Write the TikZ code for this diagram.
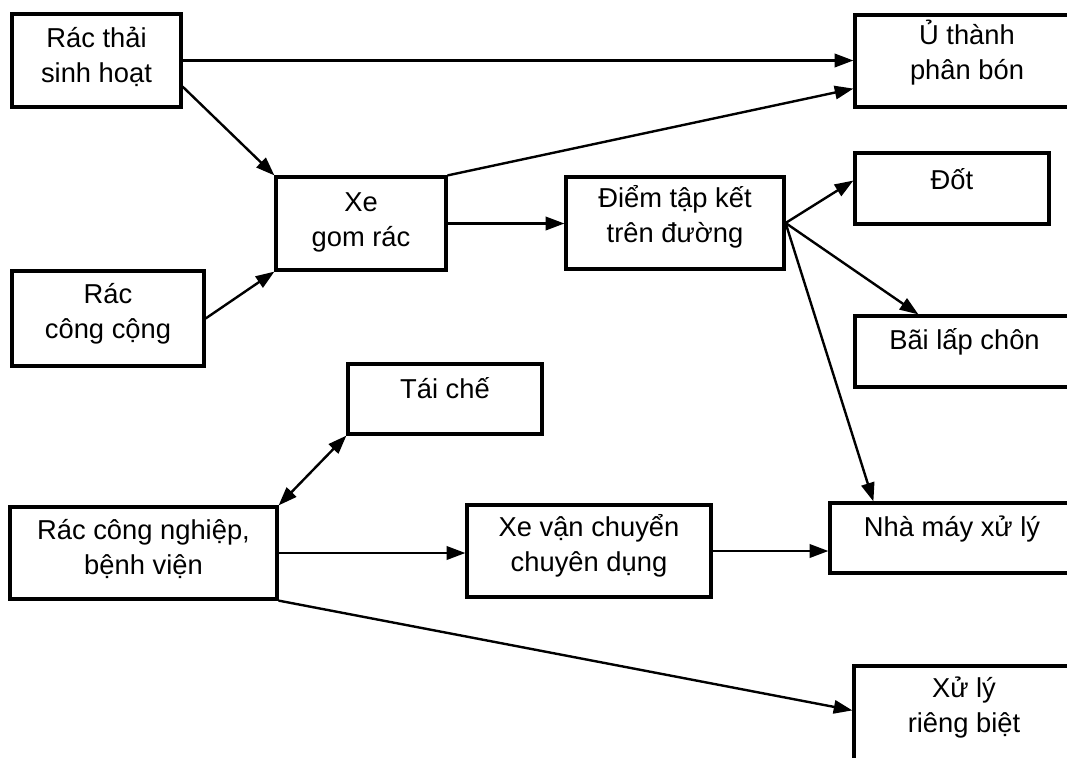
\documentclass[tikz,border=0pt]{standalone}
\usepackage{fontspec}
\setmainfont{Liberation Sans}
\usetikzlibrary{arrows.meta,calc,fit}
\begin{document}
\begin{tikzpicture}[x=0.75pt,y=-0.75pt,
  box/.style={draw, line width=2.4pt, inner sep=0pt},
  txt/.style={font=\fontsize{20.5}{26.25}\selectfont, align=center, inner sep=0pt, anchor=base},
  arr/.style={line width=1.8pt, -{Triangle[length=14pt,width=10pt]}},
  darr/.style={line width=1.8pt, {Triangle[length=14pt,width=10pt]}-{Triangle[length=14pt,width=10pt]}}]
\useasboundingbox (0,0) rectangle (1067,757);
\clip (0,0) rectangle (1067,757);
% boxes
\node[box, fit={(12,14) (181,107)}] (sh) {};
\node[box, fit={(12,271) (204,366)}] (cc) {};
\node[box, fit={(276,177) (446,270)}] (xg) {};
\node[box, fit={(566,177) (784,269)}] (dt) {};
\node[box, fit={(855,15) (1079,107)}] (uph) {};
\node[box, fit={(855,153) (1049,224)}] (dot) {};
\node[box, fit={(855,316) (1074,387)}] (bl) {};
\node[box, fit={(348,364) (542,434)}] (tc) {};
\node[box, fit={(10,507) (277,599)}] (cn) {};
\node[box, fit={(467,505) (711,597)}] (xv) {};
\node[box, fit={(830,503) (1074,573)}] (nm) {};
\node[box, fit={(854,666) (1074,762)}] (xl) {};
% texts (base = baseline of the last line)
\node[txt] (tsh) at ($(sh.north)+(0,70)$) {Rác thải\\sinh hoạt};
\node[txt] (tcc) at ($(cc.north)+(0,69)$) {Rác\\công cộng};
\node[txt] (txg) at ($(xg.north)+(0,71)$) {Xe\\gom rác};
\node[txt] (tdt) at ($(dt.north)+(0,67)$) {Điểm tập kết\\trên đường};
\node[txt] (tuph) at ($(uph.north)+(0,66)$) {Ủ thành\\phân bón};
\node[txt] (tdot) at ($(dot.north)+(0,38)$) {Đốt};
\node[txt] (tbl) at ($(bl.north)+(0,35)$) {Bãi lấp chôn};
\node[txt] (ttc) at ($(tc.north)+(0,36)$) {Tái chế};
\node[txt] (tcn) at ($(cn.north)+(0,69)$) {Rác công nghiệp,\\bệnh viện};
\node[txt] (txv) at ($(xv.north)+(0,68)$) {Xe vận chuyển\\chuyên dụng};
\node[txt] (tnm) at ($(nm.north)+(0,35)$) {Nhà máy xử lý};
\node[txt] (txl) at ($(xl.north)+(0,68)$) {Xử lý\\riêng biệt};
% connectors
\draw[arr] (sh.east) -- (sh.east -| uph.west);
\draw[arr] ($(sh.south east)+(0,-22)$) -- (xg.north west);
\draw[arr] (cc.east) -- (xg.south west);
\draw[arr] (xg.north east) -- ($(uph.south west)+(0,-20)$);
\draw[arr] (xg.east) -- (xg.east -| dt.west);
\draw[arr] (dt.east) -- ($(dot.west)+(0,-8)$);
\draw[arr] (dt.east) -- ($(bl.north west)+(65,0)$);
\draw[arr] (dt.east) -- ($(nm.north west)+(45,0)$);
\draw[darr] (tc.south west) -- (cn.north east);
\draw[arr] (cn.east) -- (cn.east -| xv.west);
\draw[arr] (xv.east) -- (xv.east -| nm.west);
\draw[arr] (cn.south east) -- ($(xl.north west)+(0,46)$);
\end{tikzpicture}
\end{document}
